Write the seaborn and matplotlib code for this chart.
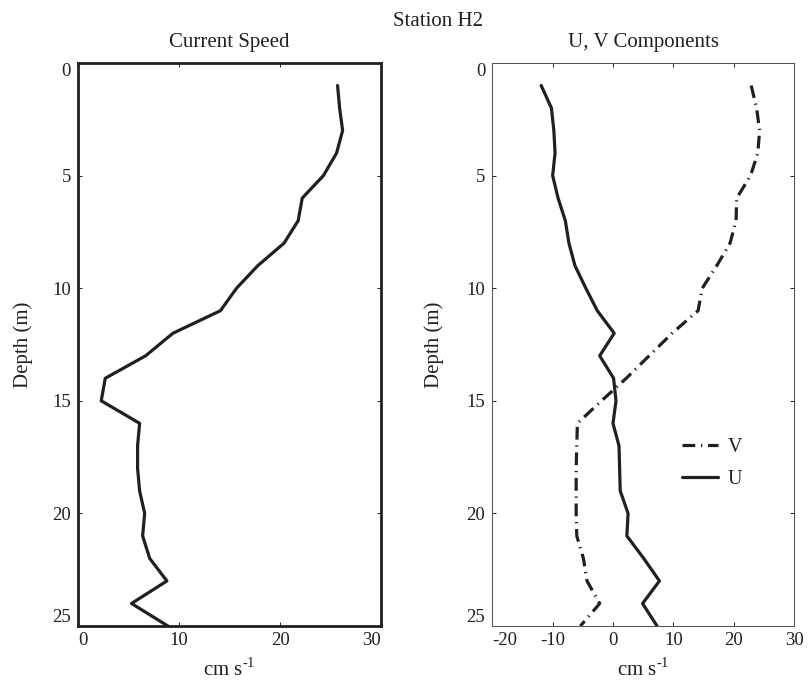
import numpy as np
import pandas as pd
import matplotlib
matplotlib.use("Agg")
import matplotlib.pyplot as plt
import seaborn as sns

# --- Datos ---
depth = [1, 2, 3, 4, 5, 6, 7, 8, 9, 10, 11, 12, 13,
         14, 15, 16, 17, 18, 19, 20, 21, 22, 23, 24, 25]
speed = [25.7, 25.9, 26.2, 25.6, 24.3, 22.2, 21.8, 20.4, 17.8, 15.7, 14.1, 9.4, 6.7,
         2.7, 2.3, 6.1, 5.9, 5.9, 6.1, 6.6, 6.4, 7.1, 8.8, 5.3, 8.9]
u_comp = [-11.9, -10.2, -9.8, -9.6, -10.0, -9.1, -7.9, -7.3, -6.3, -4.5, -2.6, 0.2, -2.2,
          0.1, 0.5, 0.0, 1.0, 1.1, 1.2, 2.5, 2.3, 5.1, 7.7, 4.9, 7.3]
v_comp = [22.9, 23.8, 24.3, 24.0, 22.8, 20.5, 20.4, 19.4, 17.2, 14.8, 14.1, 9.8, 6.0,
          2.2, -1.9, -5.9, -6.0, -6.1, -6.1, -6.1, -6.0, -4.9, -4.3, -2.2, -5.4]

station = "Station H2"
titles = ["Current Speed", "U, V Components"]
xticks_left = [0, 10, 20, 30]
xticks_right = [-20, -10, 0, 10, 20, 30]
yticks = [0, 5, 10, 15, 20, 25]

df = pd.DataFrame({"depth": depth, "speed": speed, "U": u_comp, "V": v_comp})

# --- Estilo ---
sns.set_style("ticks")
plt.rcParams["font.family"] = ["Liberation Serif", "DejaVu Serif"]
plt.rcParams["mathtext.fontset"] = "custom"
plt.rcParams["mathtext.rm"] = "Liberation Serif"
plt.rcParams["axes.unicode_minus"] = False
ink = "#231f20"
plt.rcParams["text.color"] = ink
plt.rcParams["xtick.color"] = ink
plt.rcParams["ytick.color"] = ink

fig = plt.figure(figsize=(8.08, 6.82), dpi=100)
ax1 = fig.add_axes([78 / 808, 1 - 626 / 682, 303 / 808, 563 / 682])
ax2 = fig.add_axes([492.3 / 808, 1 - 626 / 682, 301.7 / 808, 563 / 682])

lw = 2.3
sns.lineplot(data=df, x="speed", y="depth", orient="y", sort=False, estimator=None,
             ax=ax1, color=ink, lw=lw)
sns.lineplot(data=df, x="V", y="depth", orient="y", sort=False, estimator=None,
             ax=ax2, color=ink, lw=lw, linestyle=(0, (4, 1.8, 0.4, 1.8)), label="V")
sns.lineplot(data=df, x="U", y="depth", orient="y", sort=False, estimator=None,
             ax=ax2, color=ink, lw=lw, label="U")


def style_axis(ax, xticks, xlim, title, frame_lw, frame_col, last_ha):
    ax.set_xlim(*xlim)
    ax.set_ylim(25, 0)
    ax.set_xticks(xticks)
    ax.set_yticks(yticks)
    ax.tick_params(direction="in", length=3, width=0.7, top=True, right=True,
                   labelsize=13.5)
    ax.tick_params(axis="x", pad=4.5)
    ax.tick_params(axis="y", pad=5)
    for sp in ax.spines.values():
        sp.set_linewidth(frame_lw)
        sp.set_color(frame_col)
    # etiquetas de los extremos hacia dentro, como en el original
    xt = ax.xaxis.get_major_ticks()
    xt[0].label1.set_horizontalalignment("left")
    xt[-1].label1.set_horizontalalignment(last_ha)
    yt = ax.yaxis.get_major_ticks()
    yt[0].label1.set_verticalalignment("top")
    yt[-1].label1.set_verticalalignment("bottom")
    ax.set_title(title, fontsize=15, pad=11.5, color=ink)
    ax.set_xlabel(r"cm s$^{\text{-1}}$", fontsize=15, color=ink)
    ax.set_ylabel("Depth (m)", fontsize=15, color=ink)
    ax.xaxis.set_label_coords(0.5, -0.058)
    ax.xaxis.label.set_verticalalignment("top")


style_axis(ax1, xticks_left, (0, 30), titles[0], 2.0, ink, "right")
style_axis(ax2, xticks_right, (-20, 30), titles[1], 0.75, "#555555", "center")
ax1.yaxis.set_label_coords(-0.148, 0.5)
ax2.yaxis.set_label_coords(-0.16, 0.5)

handles, labels = ax2.get_legend_handles_labels()
ax2.legend(handles, labels, loc="center left", bbox_to_anchor=(0.603, 0.288),
           frameon=False, fontsize=14.5, handlelength=1.76, handletextpad=0.48,
           labelspacing=0.65, borderaxespad=0)

fig.text(438 / 808, 1 - 26 / 682, station, ha="center", va="baseline", fontsize=15)

fig.savefig("out.png", dpi=100)
